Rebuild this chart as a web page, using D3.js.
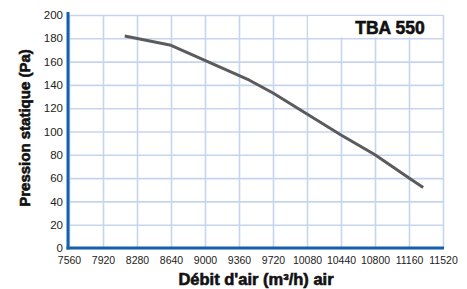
<!DOCTYPE html>
<html><head><meta charset="utf-8">
<script src="https://cdn.jsdelivr.net/npm/d3@7/dist/d3.min.js"></script>
<style>
html,body{margin:0;padding:0;background:#fff;}
svg{display:block;}
</style></head>
<body>
<svg id="c" width="467" height="289"></svg>
<script>
const flowValues = [8150, 8640, 9470, 9720, 10080, 10440, 10800, 11160, 11310];
const pressureValues = [182, 174, 144, 133, 115, 97, 80, 60, 52];
const xTickValues = [7560, 7920, 8280, 8640, 9000, 9360, 9720, 10080, 10440, 10800, 11160, 11520];
const yTickValues = [0, 20, 40, 60, 80, 100, 120, 140, 160, 180, 200];
const modelLabel = "TBA 550";
const xTitle = "Débit d'air (m³/h) air";
const yTitle = "Pression statique (Pa)";

const svg = d3.select("#c");
const L = 69, R = 443, T = 15, B = 248;
const x = d3.scaleLinear().domain([7560, 11520]).range([L, R]);
const y = d3.scaleLinear().domain([0, 200]).range([B, T]);
const gridColor = "#c7d4ee";
const font = "Liberation Sans, Arial, sans-serif";

// grid
const gx = svg.append("g").attr("transform", `translate(0,${B})`)
  .call(d3.axisBottom(x).tickValues(xTickValues).tickSize(-(B - T)).tickFormat(""));
gx.select(".domain").remove();
gx.selectAll("line").attr("stroke", gridColor).attr("stroke-width", 1.6);
const gy = svg.append("g").attr("transform", `translate(${L},0)`)
  .call(d3.axisLeft(y).tickValues(yTickValues).tickSize(-(R - L)).tickFormat(""));
gy.select(".domain").remove();
gy.selectAll("line").attr("stroke", gridColor).attr("stroke-width", 1.6);

// model label box (clears grid inside)
svg.append("rect")
  .attr("x", x(10080) + 1).attr("y", y(200) + 1)
  .attr("width", x(11520) - x(10080) - 2).attr("height", y(180) - y(200) - 2)
  .attr("fill", "#fff");
svg.append("text")
  .attr("x", (x(10440) + x(11520)) / 2 - 2).attr("y", 34)
  .attr("text-anchor", "middle")
  .attr("font-family", font)
  .attr("font-weight", "bold").attr("font-size", 17.5)
  .attr("fill", "#111").attr("stroke", "#111").attr("stroke-width", 0.6)
  .text(modelLabel);

// axes
const ax = svg.append("g").attr("transform", `translate(0,${B})`)
  .call(d3.axisBottom(x).tickValues(xTickValues).tickSize(0).tickPadding(9).tickFormat(d3.format("d")));
ax.select(".domain").remove();
ax.selectAll("text").attr("font-family", font).attr("font-size", 10.5).attr("fill", "#222");

const ay = svg.append("g").attr("transform", `translate(${L},0)`)
  .call(d3.axisLeft(y).tickValues(yTickValues).tickSize(0).tickPadding(6).tickFormat(d3.format("d")));
ay.select(".domain").remove();
ay.selectAll("text").attr("font-family", font).attr("font-size", 11.5).attr("fill", "#222");

svg.append("line").attr("x1", L - 1).attr("x2", L - 1).attr("y1", T - 3).attr("y2", B + 1.5)
  .attr("stroke", "#1460ad").attr("stroke-width", 3);
svg.append("line").attr("x1", L - 2.5).attr("x2", R + 1).attr("y1", B).attr("y2", B)
  .attr("stroke", "#1460ad").attr("stroke-width", 3);

// curve
const line = d3.line().x((d, i) => x(flowValues[i])).y(d => y(d));
svg.append("path").datum(pressureValues)
  .attr("d", line).attr("fill", "none")
  .attr("stroke", "#5b5b5d").attr("stroke-width", 3).attr("stroke-linejoin", "round");

// titles
svg.append("text")
  .attr("x", 256).attr("y", 285)
  .attr("text-anchor", "middle")
  .attr("font-family", font)
  .attr("font-weight", "bold").attr("font-size", 16.5)
  .attr("fill", "#111").attr("stroke", "#111").attr("stroke-width", 0.6)
  .text(xTitle);
svg.append("text")
  .attr("transform", "translate(30,128) rotate(-90)")
  .attr("text-anchor", "middle")
  .attr("font-family", font)
  .attr("font-weight", "bold").attr("font-size", 15)
  .attr("fill", "#111").attr("stroke", "#111").attr("stroke-width", 0.6)
  .text(yTitle);
</script>
</body></html>
